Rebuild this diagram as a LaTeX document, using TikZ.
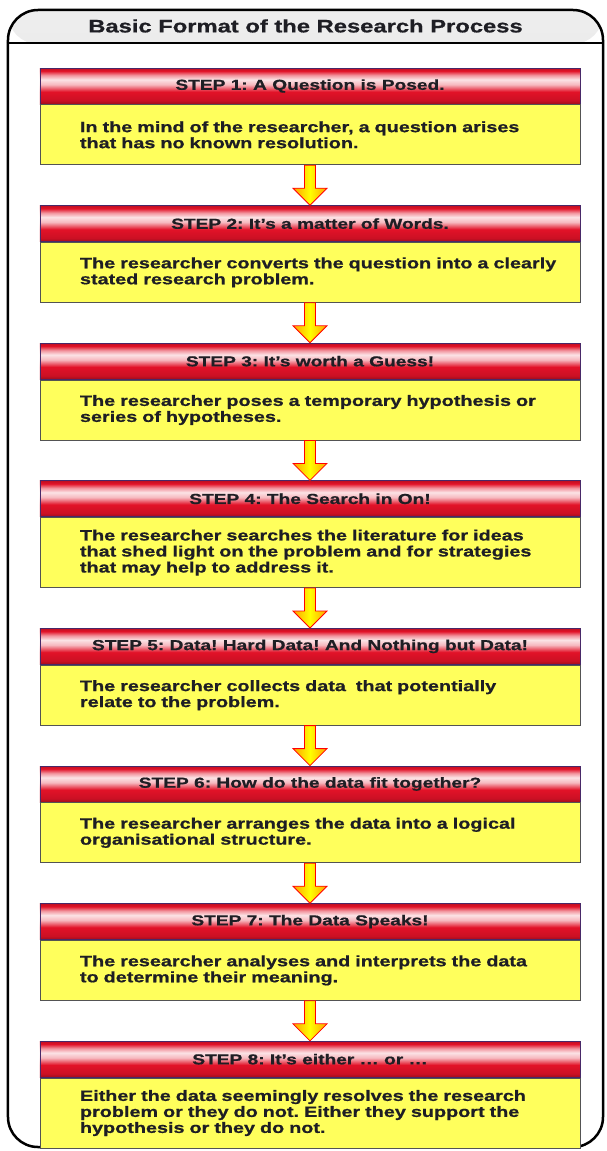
\documentclass[tikz,border=0pt]{standalone}
\usepackage{fontspec}
\setmainfont{Liberation Sans}[FakeStretch=1.32,BoldFeatures={FakeBold=0.8}]
\usetikzlibrary{positioning,calc}

\definecolor{barred}{RGB}{226,18,40}
\definecolor{barline}{RGB}{72,40,104}
\definecolor{bodyyellow}{RGB}{255,255,92}
\definecolor{ink}{RGB}{30,30,36}
% the path is mapped onto 25bp..75bp of the shading
\pgfdeclareverticalshading{stepbar}{100bp}{color(0bp)=(barred!70!black); color(25bp)=(barred!70!black); color(30bp)=(barred!90!black); color(42bp)=(barred); color(52bp)=(white!70!barred); color(59bp)=(white!88!barred); color(65bp)=(white!55!barred); color(71bp)=(barred); color(75bp)=(barred!85!black); color(100bp)=(barred!85!black)}

% yellow block arrow from one step to the next
\newcommand{\stepArrow}[2]{%
  \shadedraw[blk] ($(#1.south)+(-5.5,0)$) -- ($(#2.north)+(-5.5,17)$) -- ++(-11.5,0)
    -- (#2.north) -- ++(17,17) -- ++(-11.5,0) -- ($(#1.south)+(5.5,0)$) -- cycle;}

\begin{document}
\frenchspacing
\begin{tikzpicture}[
  x=1bp,y=1bp,node distance=40bp,text=ink,
  font=\bfseries\fontsize{15bp}{16bp}\selectfont,
  panel/.style={draw,line width=2.5bp,rounded corners=30bp,minimum width=595bp,minimum height=1137bp},
  bar/.style={draw=barline,line width=0.8bp,shade,shading=stepbar,minimum width=540bp,minimum height=36bp,inner sep=0pt,font=\bfseries\fontsize{14.5bp}{16bp}\selectfont},
  txt/.style={draw=gray!65!black,line width=0.8bp,fill=bodyyellow,text width=500bp,inner xsep=20bp,inner ysep=0pt,align=left,minimum height=60bp,execute at begin node={\leftskip=20bp}},
  txt3/.style={txt,minimum height=70bp},
  blk/.style={draw=red,line width=0.8bp,left color=orange!75!yellow,right color=orange!75!yellow,middle color=yellow}]
\useasboundingbox (0,0) rectangle (607,-1151);
\node[panel,path picture={\shade[top color=gray!14,bottom color=gray!40] (path picture bounding box.north west) rectangle ([yshift=-34bp]path picture bounding box.north east);}] (panel) at (305.5,-578.5) {};
\node[below=0pt of panel.north,minimum height=34bp,inner sep=0pt,font=\bfseries\fontsize{18bp}{20bp}\selectfont] (title) {Basic Format of the Research Process};
\draw[line width=2bp] (panel.west |- title.south) -- (panel.east |- title.south);

\node[bar] (h1) at (310,-86) {STEP 1: A Question is Posed.};
\node[txt,below=0pt of h1] (b1) {In the mind of the researcher, a question arises\\that has no known resolution.};
\node[bar,below=of b1] (h2) {STEP 2: It's a matter of Words.};
\node[txt,below=0pt of h2] (b2) {The researcher converts the question into a clearly\\stated research problem.};
\node[bar,below=of b2] (h3) {STEP 3: It's worth a Guess!};
\node[txt,below=0pt of h3] (b3) {The researcher poses a temporary hypothesis or\\series of hypotheses.};
\node[bar,below=of b3] (h4) {STEP 4: The Search in On!};
\node[txt3,below=0pt of h4] (b4) {The researcher searches the literature for ideas\\that shed light on the problem and for strategies\\that may help to address it.};
\node[bar,below=of b4] (h5) {STEP 5: Data! Hard Data! And Nothing but Data!};
\node[txt,below=0pt of h5] (b5) {The researcher collects data\ \ that potentially\\relate to the problem.};
\node[bar,below=of b5] (h6) {STEP 6: How do the data fit together?};
\node[txt,below=0pt of h6] (b6) {The researcher arranges the data into a logical\\organisational structure.};
\node[bar,below=of b6] (h7) {STEP 7: The Data Speaks!};
\node[txt,below=0pt of h7] (b7) {The researcher analyses and interprets the data\\to determine their meaning.};
\node[bar,below=of b7] (h8) {STEP 8: It's either \dots\ or \dots};
\node[txt3,below=0pt of h8] (b8) {Either the data seemingly resolves the research\\problem or they do not. Either they support the\\hypothesis or they do not.};

\foreach \a/\b in {b1/h2,b2/h3,b3/h4,b4/h5,b5/h6,b6/h7,b7/h8}
  \stepArrow{\a}{\b};
\end{tikzpicture}
\end{document}
